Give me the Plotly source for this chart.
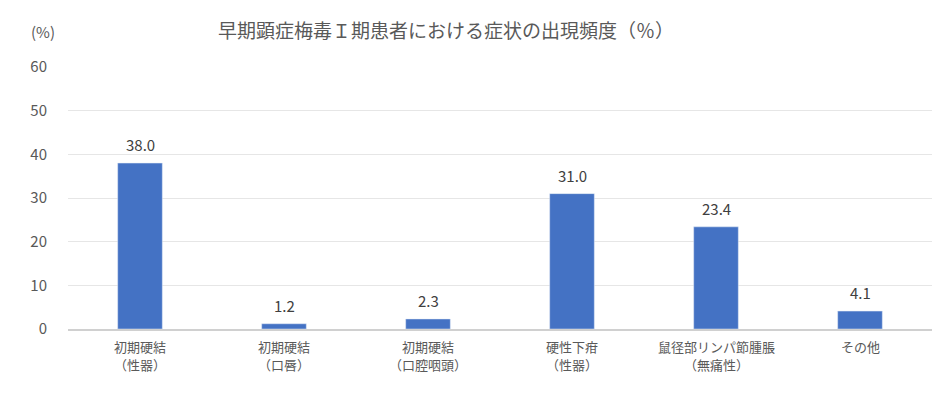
import plotly.graph_objects as go

# data
categories = ["初期硬結（性器）", "初期硬結（口唇）", "初期硬結（口腔咽頭）",
              "硬性下疳（性器）", "鼠径部リンパ節腫脹（無痛性）", "その他"]
label_line1 = ["初期硬結", "初期硬結", "初期硬結", "硬性下疳", "鼠径部リンパ節腫脹", "その他"]
label_line2 = ["（性器）", "（口唇）", "（口腔咽頭）", "（性器）", "（無痛性）", ""]
values = [38.0, 1.2, 2.3, 31.0, 23.4, 4.1]
y_ticks = [0, 10, 20, 30, 40, 50, 60]

font_jp = "Noto Sans CJK JP, Noto Sans, sans-serif"
gray = "#595959"

fig = go.Figure()
fig.add_trace(go.Bar(
    x=categories, y=values,
    marker_color="#4472C4",
    hoverinfo="x+y",
))

# value labels sit a bit higher above the bars than plotly's "outside" text
for cat, v in zip(categories, values):
    fig.add_annotation(x=cat, y=v, text=f"{v:.1f}", showarrow=False,
                       yanchor="bottom", yshift=6,
                       font=dict(size=15, color="#404040", family=font_jp))

# two-line category labels, one annotation per line so the lines get some air
for cat, l1, l2 in zip(categories, label_line1, label_line2):
    fig.add_annotation(x=cat, y=0, text=l1, showarrow=False,
                       yanchor="middle", yshift=-17,
                       font=dict(size=13, color=gray, family=font_jp))
    if l2:
        fig.add_annotation(x=cat, y=0, text=l2, showarrow=False,
                           yanchor="middle", yshift=-35,
                           font=dict(size=13, color=gray, family=font_jp))

fig.update_layout(
    width=950, height=411,
    paper_bgcolor="white", plot_bgcolor="white",
    margin=dict(l=60, r=26, t=59, b=90),
    bargap=0.69,
    showlegend=False,
    font=dict(family=font_jp, color=gray, size=13),
    title=dict(text="早期顕症梅毒Ｉ期患者における症状の出現頻度（％）",
               x=0.461, xanchor="center", y=0.944, yanchor="middle",
               font=dict(size=19, color=gray, family=font_jp)),
)
fig.update_yaxes(
    range=[0, 60], tickvals=y_ticks,
    showgrid=True, gridcolor="#e6e6e6", gridwidth=1,
    zeroline=False, showline=False,
    ticklabelstandoff=20,
    tickfont=dict(size=15, color=gray),
)
fig.update_xaxes(
    showline=True, linecolor="#d0d0d0", linewidth=1.5,
    showticklabels=False,
)
fig.add_annotation(text="(%)", xref="paper", yref="paper", x=-0.029, y=1.137,
                   xanchor="center", yanchor="middle", showarrow=False,
                   font=dict(size=15, color=gray))

fig.write_html("out.html")
